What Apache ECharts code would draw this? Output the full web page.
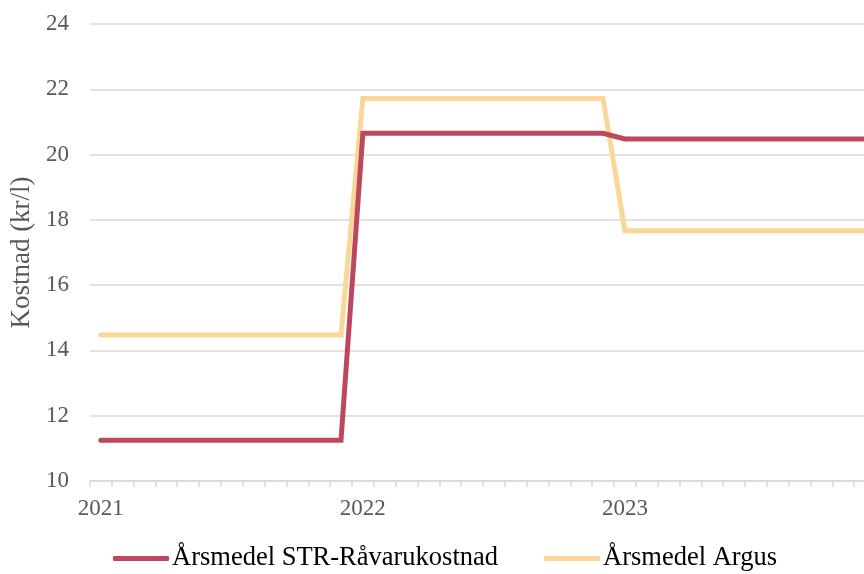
<!DOCTYPE html>
<html>
<head>
<meta charset="utf-8">
<script src="https://cdn.jsdelivr.net/npm/echarts@6/dist/echarts.min.js"></script>
<style>
  html, body { margin: 0; padding: 0; background: #fff; overflow: hidden; }
  /* plot area continues a little past the right edge of the window */
  #chart { width: 876px; height: 574px; }
</style>
</head>
<body>
<div id="chart"></div>
<script>
// Monthly categories, January 2021 – December 2023
const months = [
  '2021-01','2021-02','2021-03','2021-04','2021-05','2021-06','2021-07','2021-08','2021-09','2021-10','2021-11','2021-12',
  '2022-01','2022-02','2022-03','2022-04','2022-05','2022-06','2022-07','2022-08','2022-09','2022-10','2022-11','2022-12',
  '2023-01','2023-02','2023-03','2023-04','2023-05','2023-06','2023-07','2023-08','2023-09','2023-10','2023-11','2023-12'
];

// Annual average cost per month (kr/l)
const strRavarukostnad = [
  11.25, 11.25, 11.25, 11.25, 11.25, 11.25, 11.25, 11.25, 11.25, 11.25, 11.25, 11.25,
  20.65, 20.65, 20.65, 20.65, 20.65, 20.65, 20.65, 20.65, 20.65, 20.65, 20.65, 20.65,
  20.48, 20.48, 20.48, 20.48, 20.48, 20.48, 20.48, 20.48, 20.48, 20.48, 20.48, 20.48
];
const argus = [
  14.47, 14.47, 14.47, 14.47, 14.47, 14.47, 14.47, 14.47, 14.47, 14.47, 14.47, 14.47,
  21.72, 21.72, 21.72, 21.72, 21.72, 21.72, 21.72, 21.72, 21.72, 21.72, 21.72, 21.72,
  17.67, 17.67, 17.67, 17.67, 17.67, 17.67, 17.67, 17.67, 17.67, 17.67, 17.67, 17.67
];

const seriesNames = ['Årsmedel STR-Råvarukostnad', 'Årsmedel Argus'];
const yAxisTitle = 'Kostnad (kr/l)';

const FONT = '"Liberation Serif", "Times New Roman", serif';
const RED = '#BE4760';
const YELLOW = '#FAD796';

const chart = echarts.init(document.getElementById('chart'), null, { renderer: 'canvas' });

chart.setOption({
  animation: false,
  backgroundColor: '#ffffff',
  grid: { left: 88, right: 0, top: 24, bottom: 93, containLabel: false },
  legend: {
    top: 545,
    left: 113,
    padding: 0,
    itemWidth: 56,
    itemHeight: 5,
    itemGap: 46,
    icon: 'roundRect',
    textStyle: { fontFamily: FONT, fontSize: 26.5, color: '#000000', padding: [0, 0, 0, -2] },
    data: seriesNames
  },
  xAxis: {
    type: 'category',
    data: months,
    boundaryGap: true,
    axisLine: { show: true, lineStyle: { color: '#d9d9d9', width: 1.5 } },
    axisTick: { show: true, interval: 0, length: 6, lineStyle: { color: '#d9d9d9', width: 1.5 } },
    axisLabel: {
      interval: 11,
      margin: 16,
      fontFamily: FONT,
      fontSize: 23,
      color: '#595959',
      formatter: v => v.slice(0, 4)
    },
    splitLine: { show: false }
  },
  yAxis: {
    type: 'value',
    min: 10,
    max: 24,
    interval: 2,
    name: yAxisTitle,
    nameLocation: 'middle',
    nameGap: 52,
    nameTextStyle: { fontFamily: FONT, fontSize: 27, color: '#595959' },
    axisLine: { show: false },
    axisTick: { show: false },
    axisLabel: { margin: 21, fontFamily: FONT, fontSize: 23, color: '#595959' },
    splitLine: { show: true, lineStyle: { color: '#d9d9d9', width: 1.5 } }
  },
  series: [
    {
      name: seriesNames[0],
      type: 'line',
      data: strRavarukostnad,
      symbol: 'none',
      color: RED,
      lineStyle: { color: RED, width: 5, cap: 'round', join: 'miter' },
      z: 3
    },
    {
      name: seriesNames[1],
      type: 'line',
      data: argus,
      symbol: 'none',
      color: YELLOW,
      lineStyle: { color: YELLOW, width: 5, cap: 'round', join: 'miter' },
      z: 2
    }
  ]
});
</script>
</body>
</html>
